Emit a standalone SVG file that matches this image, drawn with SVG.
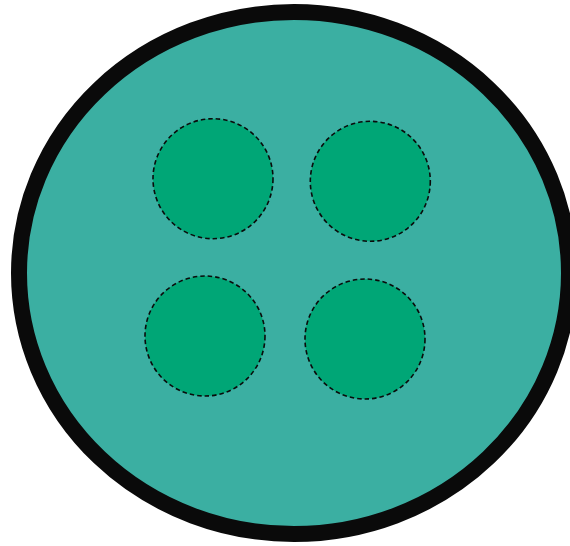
<svg xmlns="http://www.w3.org/2000/svg" width="570" height="546" viewBox="0 0 570 546">
<style>
.outer{fill:#3BAFA2;stroke:#0A0A0A;stroke-width:16}
.inner{fill:#00A676;stroke:#0A0A0A;stroke-width:1.6;stroke-dasharray:4.5 3}
</style>
<rect width="570" height="546" fill="#FFFFFF"/>
<g id="cell"><ellipse class="outer" cx="294" cy="273" rx="275" ry="261"/></g>
<g id="c1"><circle class="inner" cx="213" cy="178.7" r="60"/></g>
<g id="c2"><circle class="inner" cx="370.3" cy="181.3" r="60"/></g>
<g id="c3"><circle class="inner" cx="205" cy="336" r="60"/></g>
<g id="c4"><circle class="inner" cx="365" cy="339" r="60"/></g>
<g id="connectors"/>
</svg>
